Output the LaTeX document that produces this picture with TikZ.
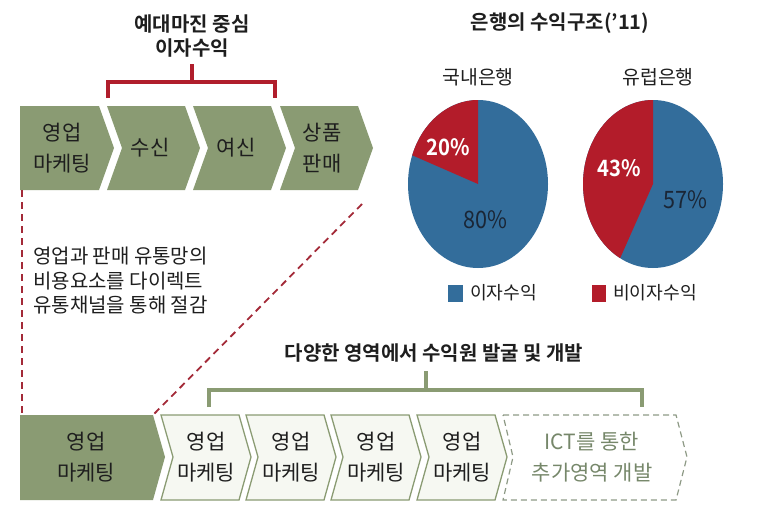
\documentclass[tikz,border=0pt]{standalone}
\usepackage{fontspec}
\setmainfont{Noto Sans CJK KR}[BoldFont={* Bold}]
\usetikzlibrary{calc}
\definecolor{olv}{HTML}{8A9B73}
\definecolor{palegr}{HTML}{F6F8F2}
\definecolor{dashgr}{HTML}{8E9A86}
\definecolor{dashtxt}{HTML}{76876A}
\definecolor{brred}{HTML}{B01E2C}
\definecolor{dred}{HTML}{A32A38}
\definecolor{pblue}{HTML}{336D9B}
\definecolor{pred}{HTML}{B31C2A}
\definecolor{txt}{HTML}{1E1E1E}
\definecolor{ptxt}{HTML}{1A2636}
\begin{document}
\begin{tikzpicture}[x=1pt,y=-1pt,
  chevg/.style={fill=olv,draw=none},
  chevw/.style={fill=palegr,draw=olv,line width=1.3pt,line join=miter},
  chevd/.style={draw=dashgr,dash pattern=on 6pt off 4pt,line width=1.2pt},
  lbl/.style={font=\fontsize{21}{30.5}\selectfont,text=txt,align=center,inner sep=0pt},
  dlbl/.style={font=\fontsize{21}{30.5}\selectfont,text=dashtxt,align=center,inner sep=0pt},
  ttl/.style={font=\bfseries\fontsize{20}{24}\selectfont,text=txt,align=center,inner sep=0pt},
  sub/.style={font=\fontsize{19.4}{22}\selectfont,text=txt,inner sep=0pt},
  pct/.style={font=\fontsize{24}{26}\selectfont\addfontfeatures{FakeStretch=0.9},inner sep=0pt},
  pctb/.style={font=\bfseries\fontsize{22.5}{26}\selectfont\addfontfeatures{FakeStretch=0.9},inner sep=0pt,text=white},
  leg/.style={font=\fontsize{18.2}{20}\selectfont,text=txt,inner sep=0pt,anchor=west},
  rbr/.style={draw=brred,line width=3.5pt},
  gbr/.style={draw=olv,line width=3.5pt},
  rdash/.style={draw=dred,line width=1.8pt,dash pattern=on 7pt off 5pt}]
\useasboundingbox (0,0) rectangle (767,509);

% ---------- top chevrons ----------
\fill[chevg] (20,106) -- (99,106) -- (114,148) -- (99,190) -- (20,190) -- cycle;
\foreach \L in {107,193,280}{
  \fill[chevg] (\L,106) -- ({\L+78},106) -- ({\L+93},148) -- ({\L+78},190) -- (\L,190) -- ({\L+15},148) -- cycle;
}
\node[lbl] (c1) at (62,148) {영업\\마케팅};
\node[lbl] (c2) at (150,148) {수신};
\node[lbl] (c3) at (236,148) {여신};
\node[lbl] (c4) at (322,148) {상품\\판매};

% red bracket + title
\node[ttl] (ttop) at (192,36) {예대마진 중심\\이자수익};
\coordinate (rb1) at (108,98);
\coordinate (rb2) at (275,98);
\coordinate (rbs) at (192,64);
\draw[rbr] (rb1) -- (108,82) -- (275,82) -- (rb2);
\draw[rbr] (192,82) -- (rbs);

% ---------- dashed guides ----------
\coordinate (dv1) at (22,190);
\coordinate (dv2) at (22,415);
\coordinate (dd1) at (362,204);
\coordinate (dd2) at (153,415);
\draw[rdash] (dv1) -- (dv2);
\draw[rdash] (dd1) -- (dd2);

\node[font=\fontsize{20}{24.5}\selectfont,text=txt,align=left,anchor=west,inner sep=0pt] (note) at (33,281)
  {영업과 판매 유통망의\\비용요소를 다이렉트\\유통채널을 통해 절감};

% ---------- bottom chevrons ----------
\fill[chevg] (20,415) -- (153,415) -- (165,457) -- (153,500) -- (20,500) -- cycle;
\node[lbl] (b0) at (86,457) {영업\\마케팅};
\foreach \L/\n in {161/1,246/2,331/3,417/4}{
  \draw[chevw] (\L,415) -- ({\L+78},415) -- ({\L+90},457) -- ({\L+78},500) -- (\L,500) -- ({\L+12},457) -- cycle;
  \node[lbl] (b\n) at ({\L+45},457) {영업\\마케팅};
}
\draw[chevd] (503,415) -- (676,415) -- (687,457) -- (676,500) -- (503,500) -- (513,457) -- cycle;
\node[dlbl] (b5) at (592,457) {ICT를 통한\\추가영역 개발};

% green bracket + title
\node[ttl] (tbot) at (434,353) {다양한 영역에서 수익원 발굴 및 개발};
\coordinate (gb1) at (209,407);
\coordinate (gb2) at (642,407);
\coordinate (gbs) at (426,371);
\draw[gbr] (gb1) -- (209,390) -- (642,390) -- (gb2);
\draw[gbr] (426,390) -- (gbs);

% ---------- pies ----------
\node[ttl] (tpie) at (560,23) {은행의 수익구조(’11)};
\node[sub] (p1t) at (478,77) {국내은행};
\node[sub] (p2t) at (658,77) {유럽은행};

\coordinate (pc1) at (478,184);
\coordinate (pc2) at (653,184);
\fill[pblue] (pc1) ellipse[x radius=70pt,y radius=84pt];
\fill[pred] (pc1) -- ++(0,-84) arc[start angle=90,end angle=160,x radius=70pt,y radius=84pt] -- cycle;
\fill[pblue] (pc2) ellipse[x radius=70pt,y radius=84pt];
\fill[pred] (pc2) -- ++(0,-84) arc[start angle=90,end angle=242,x radius=70pt,y radius=84pt] -- cycle;

\node[pctb] (v20) at (448,147) {20\%};
\node[pct,text=ptxt] (v80) at (485,220) {80\%};
\node[pctb] (v43) at (619,168) {43\%};
\node[pct,text=ptxt] (v57) at (685,200) {57\%};

% legend
\fill[pblue] (448,285) rectangle (463,302);
\node[leg] (l1) at (470,293) {이자수익};
\fill[pred] (592,285) rectangle (606,302);
\node[leg] (l2) at (613,293) {비이자수익};
\end{tikzpicture}
\end{document}
